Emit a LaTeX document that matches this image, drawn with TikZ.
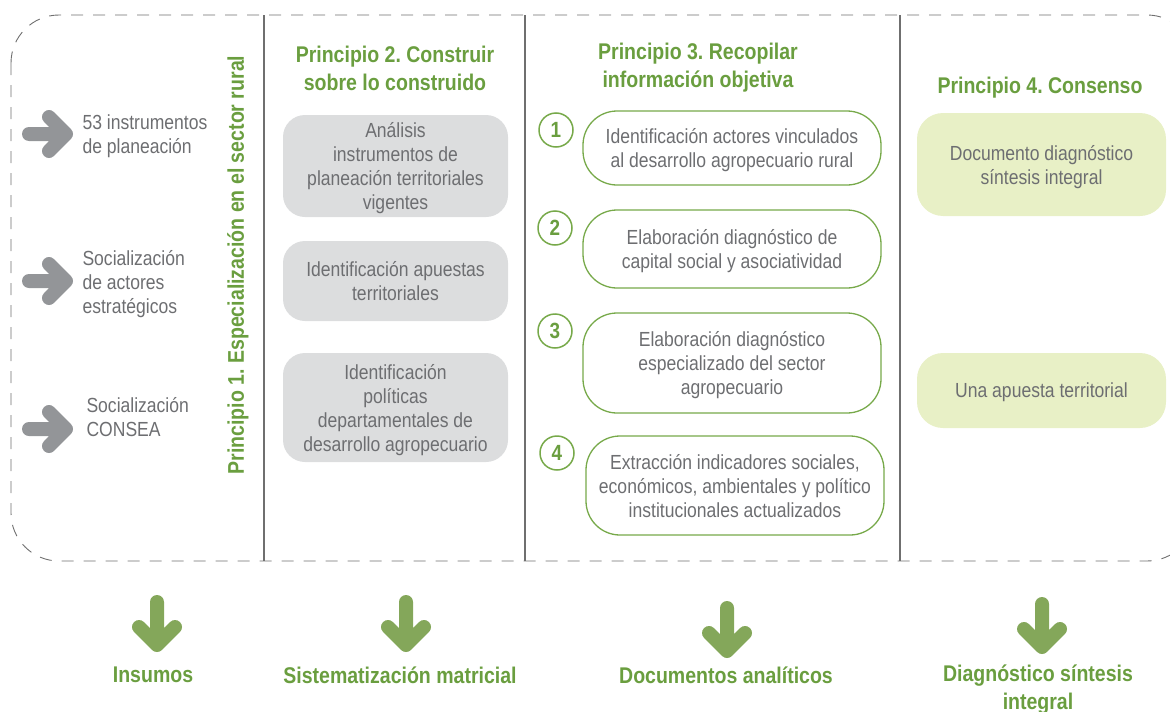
\documentclass[tikz,border=0pt]{standalone}
\usepackage{fontspec}
\setmainfont{Liberation Sans}[FakeStretch=0.86]
\frenchspacing
\definecolor{txtgray}{HTML}{6D6E71}
\definecolor{arrgray}{HTML}{939598}
\definecolor{linegray}{HTML}{6F6F6F}
\definecolor{boxgray}{HTML}{DCDDDE}
\definecolor{titlegreen}{HTML}{6A9E3F}
\definecolor{arrgreen}{HTML}{84A75A}
\definecolor{boxgreen}{HTML}{77A94A}
\definecolor{boxlime}{HTML}{E8F0C6}
\tikzset{
  border/.style={draw=linegray, line width=0.9, dash pattern=on 12 off 10},
  divider/.style={draw=linegray, line width=1.3},
  garrow/.style={draw=arrgray, line width=14, line cap=round, line join=round},
  darrow/.style={draw=arrgreen, line width=14, line cap=round, line join=round},
  body/.style={text=txtgray, align=center, text depth=-1.5pt, font=\fontsize{20.4}{24}\selectfont},
  ptitle/.style={text=titlegreen, align=center, font=\bfseries\fontsize{22.7}{28}\selectfont},
  graybox/.style={body, fill=boxgray, rounded corners=22},
  pillbox/.style={body, draw=boxgreen, line width=1.3, rounded corners=34},
  limebox/.style={body, fill=boxlime, rounded corners=26},
  numcirc/.style={circle, draw=boxgreen, line width=1.5, minimum size=34, inner sep=0, text=titlegreen, font=\bfseries\fontsize{22}{24}\selectfont},
  rarrow/.pic={\draw[garrow] (-19,0) -- (17,0) (1,-17) -- (18,0) -- (1,17);},
  dnarrow/.pic={\draw[darrow] (0,-22) -- (0,20) (-18,3) -- (0,21) -- (18,3);}
}
\begin{document}
\begin{tikzpicture}[x=1pt,y=-1pt]
\useasboundingbox (0,0) rectangle (1170,712);
\begin{scope}
  \clip (0,0) rectangle (1170,712);
  \draw[border, rounded corners=48] (11,15) rectangle (1195,561);
\end{scope}
\draw[divider] (264,15) -- (264,561);
\draw[divider] (525,15) -- (525,561);
\draw[divider] (900,15) -- (900,561);

% column 1
\pic at (48,134) {rarrow};
\pic at (48,281) {rarrow};
\pic at (48,429) {rarrow};
\node[body, anchor=west, align=left] (i1) at (79,134) {53 instrumentos\\de planeación};
\node[body, anchor=west, align=left] (i2) at (79,282) {Socialización\\de actores\\estratégicos};
\node[body, anchor=west, align=left] (i3) at (83,417) {Socialización\\CONSEA};
\node[ptitle, rotate=90] (p1) at (238,265) {Principio 1. Especialización en el sector rural};

% column 2
\node[ptitle] (p2) at (395,68) {Principio 2. Construir\\sobre lo construido};
\node[graybox, minimum width=225, minimum height=102] (b21) at (395.5,166) {Análisis\\instrumentos de\\planeación territoriales\\vigentes};
\node[graybox, minimum width=225, minimum height=80] (b22) at (395.5,281) {Identificación apuestas\\territoriales};
\node[graybox, minimum width=225, minimum height=109] (b23) at (395.5,407.5) {Identificación\\políticas\\departamentales de\\desarrollo agropecuario};

% column 3
\node[ptitle] (p3) at (698,68) {Principio 3. Recopilar\\información objetiva};
\node[pillbox, minimum width=298, minimum height=74] (b31) at (732,148) {Identificación actores vinculados\\al desarrollo agropecuario rural};
\node[pillbox, minimum width=298, minimum height=78] (b32) at (732,249) {Elaboración diagnóstico de\\capital social y asociatividad};
\node[pillbox, minimum width=298, minimum height=100] (b33) at (732,363) {Elaboración diagnóstico\\especializado del sector\\agropecuario};
\node[pillbox, minimum width=298, minimum height=99] (b34) at (735,485.5) {Extracción indicadores sociales,\\económicos, ambientales y político\\institucionales actualizados};
\node[numcirc] (n1) at (556,130) {1};
\node[numcirc] (n2) at (555,228) {2};
\node[numcirc] (n3) at (555,331) {3};
\node[numcirc] (n4) at (557,453) {4};

% column 4
\node[ptitle] (p4) at (1040,88) {Principio 4. Consenso};
\node[limebox, minimum width=249, minimum height=103, text depth=-4pt] (b41) at (1041.5,164.5) {Documento diagnóstico\\síntesis integral};
\node[limebox, minimum width=249, minimum height=75] (b42) at (1041.5,390.5) {Una apuesta territorial};

% bottom
\pic at (157,624) {dnarrow};
\pic at (406,624) {dnarrow};
\pic at (727,630) {dnarrow};
\pic at (1042,626) {dnarrow};
\node[ptitle] (o1) at (153,675) {Insumos};
\node[ptitle] (o2) at (400,675) {Sistematización matricial};
\node[ptitle] (o3) at (726,675) {Documentos analíticos};
\node[ptitle, anchor=north] (o4) at (1038,661) {Diagnóstico síntesis\\integral};
\end{tikzpicture}
\end{document}
